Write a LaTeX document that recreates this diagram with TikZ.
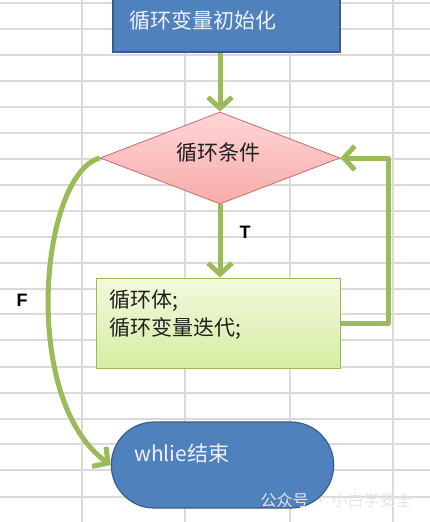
\documentclass[tikz,border=0pt]{standalone}
\usepackage{fontspec}
\setmainfont{Noto Sans CJK SC}
\newfontfamily\tfsans{Liberation Sans}
\usepackage{tikz}
\usetikzlibrary{arrows.meta, positioning, shapes.geometric, shapes.misc}
\definecolor{gridGray}{RGB}{218,218,218}
\definecolor{boxBlue}{RGB}{79,129,189}
\definecolor{boxBlueEdge}{RGB}{56,93,138}
\definecolor{condTop}{RGB}{255,214,214}
\definecolor{condBot}{RGB}{247,170,170}
\definecolor{condEdge}{RGB}{200,110,110}
\definecolor{bodyTop}{RGB}{242,249,222}
\definecolor{bodyBot}{RGB}{214,237,162}
\definecolor{bodyEdge}{RGB}{155,187,89}
\definecolor{flowGreen}{RGB}{155,187,89}
\definecolor{markGray}{RGB}{230,230,230}

\begin{document}
\begin{tikzpicture}[
    x=1pt, y=-1pt,
    gridline/.style={gridGray, line width=1.1pt},
    bluebox/.style={rectangle, draw=boxBlueEdge, line width=1.2pt, fill=boxBlue, text=white!94!blue, font=\fontsize{21}{25}\selectfont},
    condbox/.style={diamond, aspect=2.6, draw=condEdge, line width=0.8pt, top color=condTop, bottom color=condBot, minimum width=240pt, minimum height=92pt, inner sep=0pt, font=\fontsize{21}{25}\selectfont},
    bodybox/.style={rectangle, draw=bodyEdge, line width=1pt, top color=bodyTop, bottom color=bodyBot, minimum width=244pt, minimum height=90pt},
    txt/.style={font=\fontsize{21}{28}\selectfont, text=black!88, align=left, inner sep=0pt},
    tflbl/.style={font=\tfsans\bfseries\fontsize{18}{21}\selectfont, inner sep=0pt, text=black},
    arr/.style={-{Straight Barb[length=11pt, width=24pt]}, flowGreen, line width=5pt, line join=round},
]
\clip (0,0) rectangle (430,522);
\useasboundingbox (0,0) rectangle (430,522);

% ========== background grid ==========
\fill[white] (0,0) rectangle (430,522);
\foreach \gx in {82,185,290,393}
    \draw[gridline] (\gx,0) -- (\gx,522);
\foreach \gy in {3,29,55,81,107,133,159,185,211,237,263,289,314,340,367,393,419,444,470,497}
    \draw[gridline] (0,\gy) -- (430,\gy);

% ========== nodes ==========
\node[bluebox, minimum width=227pt, minimum height=72pt] at (226.5,16) (init) {};
\node[txt, text=white!94!blue, anchor=west] at (129,21) (inittxt) {循环变量初始化};
\node[condbox] at (220,158) (cond) {};
\node[txt, anchor=center] at (218,153) (condtxt) {循环条件};
\node[bodybox] at (218,323) (body) {};
\node[txt, anchor=north west] at (109,290) (bodytxt) {循环体;\\循环变量迭代;};
\node[bluebox, rounded rectangle, minimum width=229pt, minimum height=86pt] at (222.5,465) (endn) {};
\node[txt, text=white!94!blue, anchor=west] at (134,454) (endtxt) {whlie结束};

% ========== connections ==========
\draw[arr] (cond.north |- init.south) -- (cond.north);
\draw[arr] (cond.south) -- (cond.south |- body.north);
\node[tflbl] at (245,232) (tlbl) {T};
\draw[arr] (body.east) -- (388,323) -- (388,158) -- (cond.east);
\draw[arr] (cond.west) .. controls (40,175) and (20,400) .. (endn.west);
\node[tflbl] at (22,300) (flbl) {F};

% watermark
\node[font=\fontsize{16}{18}\selectfont, text=markGray, anchor=west] at (257,500) (mark) {公众号 · 小白学安全};

\end{tikzpicture}
\end{document}
